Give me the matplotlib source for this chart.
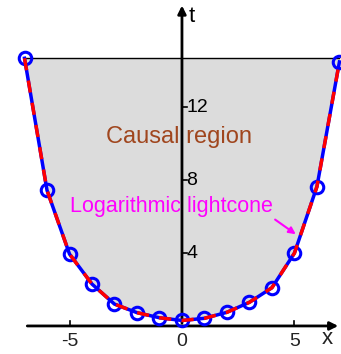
import matplotlib.pyplot as plt
import numpy as np

plt.rcParams['font.family'] = ['Liberation Sans', 'DejaVu Sans']

# lightcone points
xs = [-7, -6, -5, -4, -3, -2, -1, 0, 1, 2, 3, 4, 5, 6, 7]
ts = [14.7, 7.45, 3.95, 2.3, 1.2, 0.73, 0.45, 0.3, 0.42, 0.75, 1.3, 2.1, 4.0, 7.65, 14.5]
t_top = 14.7
xticks = [-5, 0, 5]
yticks = [4, 8, 12]

fig = plt.figure(figsize=(3.41, 3.54), dpi=100)
ax = fig.add_axes([0, 0, 1, 1])
ax.set_xlim(-8.09, 7.07)
ax.set_ylim(-1.54, 17.9)
ax.axis('off')

# causal region
ax.fill_between(xs, ts, t_top, color='#dcdcdc', lw=0, zorder=1)
ax.plot([xs[0], xs[-1]], [t_top, t_top], color='black', lw=1, zorder=2)

# axes with arrows
ax.annotate('', xy=(7.07, 0), xytext=(-7, 0),
            arrowprops=dict(arrowstyle='-|>', color='black', lw=2, mutation_scale=12), zorder=3)
ax.annotate('', xy=(0, 17.75), xytext=(0, 0),
            arrowprops=dict(arrowstyle='-|>', color='black', lw=2, mutation_scale=12), zorder=3)
for v in xticks:
    if v != 0:
        ax.plot([v, v], [0, 0.25], color='black', lw=1.2, zorder=3)
    ax.text(v, -0.85, str(v), ha='center', va='center', fontsize=14, color='#222222')
for v in yticks:
    ax.plot([0, 0.22], [v, v], color='black', lw=1.2, zorder=3)
    ax.text(0.2, v, str(v), ha='left', va='center', fontsize=14, color='black')
ax.text(0.45, 17.0, 't', ha='center', va='center', fontsize=16)
ax.text(6.45, -0.7, 'x', ha='center', va='center', fontsize=16, color='#222222')

# lightcone curve
ax.plot(xs, ts, color='blue', lw=2.5, marker='o', ms=9, mfc='none', mew=2.2, zorder=4)
ax.plot(xs, ts, color='red', lw=2.5, dashes=(3.5, 3), zorder=5)

ax.text(-0.13, 10.4, 'Causal region', ha='center', va='center', fontsize=17, color='#a0461e', zorder=6)
ax.text(-0.49, 6.54, 'Logarithmic lightcone', ha='center', va='center', fontsize=15.5,
        color='magenta', zorder=6)
ax.annotate('', xy=(5.16, 4.95), xytext=(4.04, 5.93),
            arrowprops=dict(arrowstyle='-|>', color='magenta', lw=1.5, mutation_scale=10), zorder=6)

fig.savefig('out.png', dpi=100)
